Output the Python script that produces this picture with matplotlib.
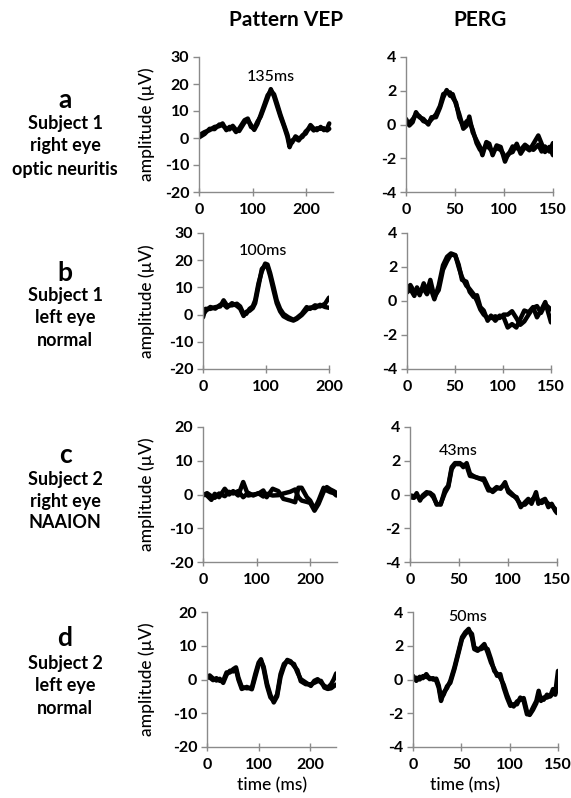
import numpy as np
import matplotlib
matplotlib.use("Agg")
import matplotlib.pyplot as plt

plt.rcParams['font.family'] = ['Lato', 'DejaVu Sans']
plt.rcParams['axes.unicode_minus'] = False

# DATA (two overlapping recordings per panel)

# a - Pattern VEP
a_vep_t = [0, 10.5, 19.8, 29, 38, 44, 51, 57, 63, 69, 75, 85, 91, 97, 103, 109, 115, 122, 128, 134,
           140, 146, 152, 159, 165, 169, 174, 180, 186, 193, 199, 208, 214, 220, 227, 233, 239, 243]
a_vep_1 = [1.0, 2.2, 2.9, 4.1, 4.4, 5.4, 2.9, 4.1, 3.9, 2.2, 3.5, 6.6, 7.2, 4.1, 3.5, 6.0, 7.9, 11.6, 14.8, 18.1,
           15.4, 11.6, 7.9, 4.1, 0.4, -3.4, -0.9, -0.2, -0.9, 1.0, 1.6, 4.8, 3.5, 2.9, 4.1, 2.9, 3.5, 5.4]
a_vep_2 = [0.2, 1.5, 3.4, 3.3, 5.0, 4.6, 3.5, 3.2, 4.5, 3.0, 2.6, 5.8, 6.6, 4.8, 3.0, 5.2, 8.5, 12.4, 15.8, 17.4,
           16.2, 12.5, 8.6, 4.6, 1.2, -2.4, -1.6, 0.6, -0.2, 0.4, 2.4, 4.0, 2.8, 3.6, 3.4, 3.6, 2.8, 3.4]

# a - PERG
a_perg_t = [0, 3.4, 6.8, 10.2, 13.6, 17.7, 22.8, 26, 30.6, 34.7, 38, 41.5, 45, 47.6, 51, 54.4, 58.5, 62, 64.6,
            68, 72, 75.5, 78, 82, 85, 88.4, 92.5, 96.6, 101, 104.4, 108.8, 113, 117, 121.4, 125.9, 130, 135,
            138.4, 141.8, 146.3, 150]
a_perg_1 = [0.33, -0.06, 0.14, 0.73, 0.43, 0.33, 0.0, 0.43, 0.43, 1.0, 1.6, 2.04, 1.7, 1.8, 1.2, 0.6, -0.25, -0.06, 0.47,
            -0.45, -0.94, -1.33, -1.82, -1.04, -1.14, -1.82, -1.24, -1.33, -2.2, -1.73, -1.63, -1.14, -1.73, -1.33, -1.53,
            -1.14, -0.65, -1.14, -1.63, -1.33, -1.82]
a_perg_2 = [0.2, 0.1, 0.3, 0.6, 0.5, 0.2, 0.1, 0.3, 0.6, 1.1, 1.8, 1.9, 1.9, 1.6, 1.3, 0.4, -0.1, 0.2, 0.2,
            -0.3, -1.1, -1.5, -1.6, -1.2, -1.4, -1.6, -1.4, -1.5, -1.9, -1.8, -1.3, -1.4, -1.5, -1.2, -1.4,
            -1.5, -1.2, -1.6, -1.3, -1.6, -1.1]

# b - Pattern VEP
b_vep_t = [0, 3.7, 11.6, 19.5, 27.4, 32.7, 38, 46, 53.8, 59, 64.4, 68.6, 73.9, 79, 82.8, 88.1, 93.4, 98.7, 102.4,
           106.6, 111.9, 117, 122.4, 127.7, 135.6, 143.5, 148.8, 156.7, 164.6, 170, 177.8, 185.8, 193.7, 200]
b_vep_1 = [-1.0, 2.1, 2.1, 2.75, 3.0, 5.25, 3.4, 3.4, 4.0, 3.0, 0.25, 0.25, 2.1, 3.0, 5.25, 11.5, 15.9, 18.75, 18.4,
           15.25, 10.25, 5.25, 2.1, 0.25, -1.0, -1.9, -1.25, 0.25, 2.75, 2.1, 3.4, 3.0, 4.0, 6.25]
b_vep_2 = [0.0, 1.2, 2.8, 2.2, 3.6, 3.8, 2.6, 4.2, 3.2, 2.2, -0.5, 1.0, 1.4, 2.4, 4.2, 10.5, 16.8, 18.0, 17.6,
           14.2, 9.0, 4.2, 1.2, -0.6, -1.6, -2.2, -1.6, -0.2, 1.8, 2.6, 2.4, 3.6, 2.8, 2.5]

# b - PERG
b_perg_t = [0, 3.5, 7.6, 10.4, 13.2, 17.4, 20.8, 24.3, 28.5, 33, 37.5, 41.7, 45.8, 50.3, 53.8, 57.3, 61.8, 65.3,
            69.4, 72.9, 76.4, 79.9, 84, 87.5, 92, 96.5, 100.7, 104.9, 109.4, 113.9, 118, 122.2, 126.7, 131.3,
            135.4, 139.6, 144, 150]
b_perg_1 = [0.74, 0.94, 0.54, 0.64, 0.34, 1.04, 0.54, 1.24, 0.24, 0.64, 1.84, 2.34, 2.74, 2.68, 2.14, 1.24, 1.14, 0.54,
            0.24, 0.34, -0.36, -0.56, -1.16, -0.86, -1.16, -0.86, -0.96, -1.56, -1.36, -1.56, -1.06, -0.56, -0.66, -0.36,
            -0.96, -0.56, -0.06, -1.26]
b_perg_2 = [0.5, 0.7, 0.3, 0.8, 0.5, 0.7, 0.4, 0.8, 0.1, 0.9, 2.1, 2.6, 2.8, 2.7, 2.0, 1.4, 0.9, 0.7,
            0.4, 0.0, -0.5, -0.8, -1.0, -1.0, -0.9, -1.0, -0.8, -0.8, -0.6, -1.0, -1.4, -1.2, -0.8, -0.4,
            -0.3, -0.7, -0.2, -0.5]

# c - Pattern VEP
c_vep_t = [0, 7.5, 15.6, 21.9, 30, 40.6, 48.8, 56.3, 65.6, 75, 84.4, 93.8, 103, 112.5, 118.8, 130, 140.6, 150,
           162.5, 171.9, 178, 184, 193.8, 200, 208, 215.6, 225, 231, 237.5, 243.8, 248.8]
c_vep_1 = [0.2, -0.3, -1.6, 0.2, -0.8, 1.7, 0.0, 1.0, -0.3, 3.7, -0.3, 0.0, 0.2, 1.2, -0.8, 1.7, 1.0, -1.3,
           -1.8, -2.3, 2.0, 2.0, -0.8, -1.8, -4.3, -1.8, 2.0, 1.2, 0.7, 0.4, -0.3]
c_vep_2 = [-0.3, 0.4, -0.5, -1.0, 0.3, -0.5, 0.8, 0.3, 1.0, -0.8, 0.5, -0.3, 0.4, -0.6, 0.2, -0.3, -0.2, 0.3,
           0.8, 1.5, -0.8, -1.8, -2.2, -2.5, -4.8, -2.8, 0.8, 2.2, 1.5, 1.0, 0.5]

# c - PERG
c_perg_t = [0, 4.1, 6.8, 10.2, 12.9, 17, 20.4, 23.8, 27.2, 31.3, 35.7, 39.1, 42.5, 45.9, 51, 54.4, 57.8, 61.2,
            66.3, 71.4, 75.5, 80, 84.4, 88.4, 92.5, 97, 100.3, 104.8, 108.8, 113, 117.3, 120.7, 124, 128.6, 131,
            134.4, 137.8, 141.2, 144.6, 148, 150]
c_perg_1 = [-0.16, -0.2, 0.08, -0.36, -0.06, 0.14, 0.08, -0.16, -0.55, -0.6, 0.28, 0.53, 1.62, 1.86, 1.86, 1.62, 1.86, 1.23,
            1.03, 0.93, 0.83, 0.24, 0.24, 0.44, 0.34, 0.73, 0.14, -0.06, -0.16, -0.75, -0.46, -0.26, -0.55, 0.14, -0.55,
            -0.36, -0.26, -0.75, -0.55, -0.95, -1.1]
c_perg_2 = [-0.05, -0.1, -0.05, -0.25, -0.15, 0.05, 0.1, -0.05, -0.6, -0.55, 0.1, 0.45, 1.5, 1.8, 1.8, 1.75, 1.7, 1.1,
            1.05, 0.95, 0.95, 0.4, 0.15, 0.35, 0.4, 0.6, 0.25, 0.0, -0.25, -0.6, -0.6, -0.4, -0.35, -0.05, -0.4,
            -0.5, -0.35, -0.55, -0.65, -0.85, -1.0]

# d - Pattern VEP
d_vep_t = [0, 5.2, 11.8, 18.3, 24.8, 31.4, 37.9, 44.4, 51, 56.2, 60.8, 67.3, 77.1, 86.9, 93.5, 100, 104.6, 109.8,
           116.3, 122.9, 129.4, 135.9, 142.5, 149, 155.6, 162.1, 168.6, 175.2, 181.7, 191.5, 201.3, 207.8, 214.4,
           220.9, 227.5, 234, 240.5, 245.8, 250.3]
d_vep_1 = [1.1, 0.6, -0.2, 0.4, -0.4, -0.4, 2.1, 2.1, 3.1, 3.6, 0.6, -2.2, -2.6, -2.4, 1.6, 5.0, 6.0, 3.1,
           -1.9, -5.3, -6.3, -4.4, 1.6, 4.6, 5.5, 5.0, 4.6, 2.1, 0.1, -0.9, -1.9, -0.4, 0.1,
           -0.9, -1.9, -2.4, -1.4, 0.1, 1.8]
d_vep_2 = [0.4, 1.2, 0.3, -0.3, 0.2, -1.0, 1.4, 2.6, 2.4, 3.0, 0.0, -2.8, -2.2, -2.9, 0.8, 4.4, 5.6, 3.8,
           -1.2, -4.6, -6.8, -5.0, 0.8, 3.8, 5.8, 5.4, 4.0, 2.8, -0.5, -1.4, -1.4, -1.0, -0.5,
           -0.4, -2.4, -2.8, -2.6, -2.0, -1.5]

# d - PERG
d_perg_t = [0, 3.4, 6.9, 10.3, 13.8, 17.2, 20.7, 24.1, 26.6, 29, 31.7, 35.2, 38.6, 42.8, 47.2, 50.7, 54.1, 57.6,
            61, 63.4, 66.9, 70.3, 73.8, 77.2, 80.7, 84.1, 86.9, 90.3, 93.8, 97.2, 100.7, 104.1, 107.6, 111, 114.5,
            117.9, 120.7, 124.1, 127.6, 130, 132.4, 135.2, 138.6, 142.1, 144.8, 147.2, 150]
d_perg_1 = [0.22, -0.08, 0.16, 0.08, 0.32, 0.02, 0.08, -0.08, -0.48, -1.27, -0.77, -0.51, -0.08, 0.71, 1.7, 2.5, 2.8, 3.0,
            2.5, 1.8, 1.7, 1.9, 2.1, 1.6, 1.0, 0.61, 0.22, 0.32, -0.48, -1.07, -1.56, -1.47, -1.47, -1.07, -1.27,
            -2.06, -2.06, -1.66, -1.27, -0.67, -1.27, -1.07, -1.07, -0.97, -0.57, -0.77, 0.51]
d_perg_2 = [0.05, 0.1, 0.0, 0.2, 0.15, 0.1, 0.0, 0.05, -0.35, -1.1, -0.9, -0.4, -0.2, 0.6, 1.6, 2.4, 2.7, 2.9,
            2.7, 1.9, 1.8, 1.8, 1.9, 1.8, 1.2, 0.5, 0.35, 0.1, -0.3, -0.9, -1.4, -1.6, -1.3, -1.2, -1.1,
            -1.9, -2.1, -1.8, -1.4, -0.9, -1.1, -1.2, -0.9, -1.0, -0.8, -0.9, -0.2]

row_letters = ['a', 'b', 'c', 'd']
row_texts = [['Subject 1', 'right eye', 'optic neuritis'],
             ['Subject 1', 'left eye', 'normal'],
             ['Subject 2', 'right eye', 'NAAION'],
             ['Subject 2', 'left eye', 'normal']]
peak_labels = [('135ms', 0, 133, 22.5), ('100ms', 1, 95, 23.5), ('43ms', 2, 49, 2.6), ('50ms', 3, 57, 3.7)]

vep_data = [(a_vep_t, a_vep_1, a_vep_2), (b_vep_t, b_vep_1, b_vep_2),
            (c_vep_t, c_vep_1, c_vep_2), (d_vep_t, d_vep_1, d_vep_2)]
perg_data = [(a_perg_t, a_perg_1, a_perg_2), (b_perg_t, b_perg_1, b_perg_2),
             (c_perg_t, c_perg_1, c_perg_2), (d_perg_t, d_perg_1, d_perg_2)]
vep_xmax = [250, 200, 250, 250]
vep_ymax = [30, 30, 20, 20]

# LAYOUT (pixel boxes measured on the 571x798 picture)

W, H = 571, 798
row_top = [57, 233, 427, 612]
row_bot = [192, 369, 562, 747]
vep_lr = [(199, 333), (203, 329), (203, 337), (207, 336)]
perg_lr = [(406, 553), (407, 551), (410, 557), (413, 558)]
text_y = [[100, 123, 146, 170], [273, 295, 318, 340], [455, 480, 502, 523], [638, 663, 686, 708]]

fig = plt.figure(figsize=(W / 100, H / 100), dpi=100)

def make_axes(l, r, t, b):
    return fig.add_axes([l / W, 1 - b / H, (r - l) / W, (b - t) / H])

def style_axes(ax):
    for side in ['top', 'right']:
        ax.spines[side].set_visible(False)
    for side in ['left', 'bottom']:
        ax.spines[side].set_color('#8a8a8a')
        ax.spines[side].set_linewidth(1.0)
    ax.tick_params(axis='y', direction='out', length=4, width=1, color='#8a8a8a', pad=3, labelsize=11.5)
    ax.tick_params(axis='x', direction='inout', length=6, width=1, color='#8a8a8a', pad=5, labelsize=11.5)
    for lab in ax.get_xticklabels() + ax.get_yticklabels():
        lab.set_fontweight('bold')

for i in range(4):
    # PATTERN VEP
    ax = make_axes(vep_lr[i][0], vep_lr[i][1], row_top[i], row_bot[i])
    t, y1, y2 = vep_data[i]
    ax.plot(t, y2, color='black', linewidth=3.2, solid_joinstyle='round', solid_capstyle='round')
    ax.plot(t, y1, color='black', linewidth=3.2, solid_joinstyle='round', solid_capstyle='round')
    ax.set_xlim(0, vep_xmax[i])
    ax.set_ylim(-20, vep_ymax[i])
    ax.set_xticks([0, 100, 200])
    ax.set_yticks(np.arange(-20, vep_ymax[i] + 1, 10))
    style_axes(ax)
    for lab, row, x, y in peak_labels:
        if row == i and i < 2:
            ax.text(x, y, lab, ha='center', va='center', fontsize=11.5, fontweight='medium')
    fig.text(147 / W, 1 - (row_top[i] + row_bot[i]) / 2 / H, 'amplitude (\u00b5V)', rotation=90,
             ha='center', va='center', fontsize=12.5, fontweight='medium')

    # PERG
    ax = make_axes(perg_lr[i][0], perg_lr[i][1], row_top[i], row_bot[i])
    t, y1, y2 = perg_data[i]
    ax.plot(t, y2, color='black', linewidth=3.2, solid_joinstyle='round', solid_capstyle='round')
    ax.plot(t, y1, color='black', linewidth=3.2, solid_joinstyle='round', solid_capstyle='round')
    ax.set_xlim(0, 150)
    ax.set_ylim(-4, 4)
    ax.set_xticks([0, 50, 100, 150])
    ax.set_yticks([-4, -2, 0, 2, 4])
    style_axes(ax)
    for lab, row, x, y in peak_labels:
        if row == i and i >= 2:
            ax.text(x, y, lab, ha='center', va='center', fontsize=11.5, fontweight='medium')

    # ROW LABELS
    fig.text(65 / W, 1 - text_y[i][0] / H, row_letters[i], ha='center', va='center',
             fontsize=19, fontweight='bold')
    for k in range(3):
        fig.text(65 / W, 1 - text_y[i][k + 1] / H, row_texts[i][k], ha='center', va='center',
                 fontsize=13, fontweight='bold')

fig.text(286 / W, 1 - 20 / H, 'Pattern VEP', ha='center', va='center', fontsize=15, fontweight='bold')
fig.text(480 / W, 1 - 20 / H, 'PERG', ha='center', va='center', fontsize=15, fontweight='bold')
fig.text(272 / W, 1 - 785 / H, 'time (ms)', ha='center', va='center', fontsize=12.5, fontweight='medium')
fig.text(465 / W, 1 - 785 / H, 'time (ms)', ha='center', va='center', fontsize=12.5, fontweight='medium')

plt.savefig("out.png", dpi=100)
